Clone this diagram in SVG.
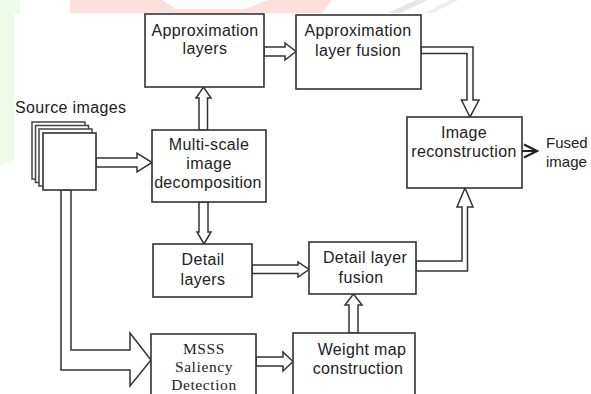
<svg xmlns="http://www.w3.org/2000/svg" width="591" height="394" viewBox="0 0 591 394">
<style>
.box{fill:#fff;stroke:#333;stroke-width:1.6}
.arr{fill:#fff;stroke:#333;stroke-width:1.5;stroke-linejoin:miter}
.t{font-family:"Liberation Sans",Arial,sans-serif;font-size:16px;letter-spacing:0.35px;fill:#222;text-anchor:middle}
.s{font-family:"Liberation Serif","DejaVu Serif",serif;font-size:15.5px;letter-spacing:0.6px;fill:#222;text-anchor:middle}
</style>
<rect width="591" height="394" fill="#fff"/>
<g id="watermark">
<polygon points="0,0 20,0 20,14 14,14 14,160 0,165" fill="#eefbe6"/>
<polygon points="70,0 162,0 176,9 245,9 268,0 332,0 322,13 70,13" fill="#fde0dc"/>
<polygon points="388,13 400,13 428,0 416,0" fill="#e6e6e6"/>
<polygon points="425,13 433,13 458,0 450,0" fill="#efefef"/>
</g>
<g id="connectors">
<polygon class="arr" points="96,158 137,158 137,153 152,162.5 137,172 137,167 96,167"/>
<polygon class="arr" points="199,130 199,98 196,98 203.5,87 211,98 207.5,98 207.5,130"/>
<polygon class="arr" points="264,47 285,47 285,43 296,51.5 285,60 285,56 264,56"/>
<polygon class="arr" points="421,47 473,47 473,100 479,100 470,117 461.5,100 467,100 467,53.5 421,53.5"/>
<polygon class="arr" points="199,202 199,232 197,232 204,244 211,232 208,232 208,202"/>
<polygon class="arr" points="252,265 298,265 298,262 309,269.5 298,277 298,273.5 252,273.5"/>
<polygon class="arr" points="416,261 462,261 462,207 457,207 465,188 473,207 467.5,207 467.5,271 416,271"/>
<polygon class="arr" points="349,333 349,305 345,305 353.5,294 362,305 358,305 358,333"/>
<polygon class="arr" points="61,190 71,190 71,350 130,350 130,333 151,360 130,386 130,370 61,370"/>
<polygon class="arr" points="256,357 283,357 283,352 293,361.5 283,371 283,366 256,366"/>
<path d="M522,151 L536,151 M524,144.5 L537,151 L524,157.5" fill="none" stroke="#222" stroke-width="2.2"/>
</g>
<g id="source">
<rect x="32" y="122" width="53" height="57" fill="#fff" stroke="#444" stroke-width="1.5"/>
<rect x="35.5" y="125.5" width="53" height="57" fill="#fff" stroke="#444" stroke-width="1.5"/>
<rect x="39" y="129" width="53" height="57" fill="#fff" stroke="#444" stroke-width="1.5"/>
<rect x="43" y="133" width="53" height="57" class="box"/>
<text class="t" x="15" y="113" style="text-anchor:start">Source  images</text>
</g>
<g id="approx-layers">
<rect class="box" x="145" y="14" width="119" height="73"/>
<text class="t" x="205" y="36">Approximation</text>
<text class="t" x="205" y="54">layers</text>
</g>
<g id="approx-fusion">
<rect class="box" x="296" y="15" width="125" height="74"/>
<text class="t" x="358" y="36">Approximation</text>
<text class="t" x="358" y="56">layer fusion</text>
</g>
<g id="decomposition">
<rect class="box" x="152" y="130" width="114" height="72"/>
<text class="t" x="209" y="150">Multi-scale</text>
<text class="t" x="209" y="169">image</text>
<text class="t" x="208" y="188">decomposition</text>
</g>
<g id="reconstruction">
<rect class="box" x="407" y="117" width="115" height="71"/>
<text class="t" x="464" y="138">Image</text>
<text class="t" x="464" y="157">reconstruction</text>
</g>
<g id="fused">
<text class="t" x="546" y="148" style="text-anchor:start;font-size:15px;letter-spacing:0">Fused</text>
<text class="t" x="546" y="167" style="text-anchor:start;font-size:15px;letter-spacing:0">image</text>
</g>
<g id="detail-layers">
<rect class="box" x="153" y="244" width="99" height="53"/>
<text class="t" x="203" y="265">Detail</text>
<text class="t" x="203" y="285">layers</text>
</g>
<g id="detail-fusion">
<rect class="box" x="309" y="242" width="107" height="52"/>
<text class="t" x="365" y="263">Detail layer</text>
<text class="t" x="361" y="283">fusion</text>
</g>
<g id="msss">
<rect class="box" x="151" y="334" width="105" height="70"/>
<text class="s" x="204" y="354">MSSS</text>
<text class="s" x="204" y="372">Saliency</text>
<text class="s" x="204" y="390">Detection</text>
</g>
<g id="weight-map">
<rect class="box" x="293" y="333" width="122" height="71"/>
<text class="t" x="362" y="355">Weight map</text>
<text class="t" x="358" y="374">construction</text>
</g>
</svg>
